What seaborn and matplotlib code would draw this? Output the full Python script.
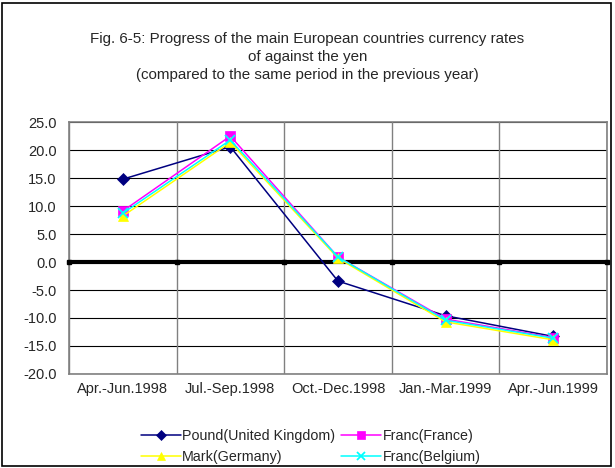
import pandas as pd
import matplotlib.pyplot as plt
import seaborn as sns
from matplotlib.patches import Rectangle

# Values (% change vs same period of previous year)
periods = ['Apr.-Jun.1998', 'Jul.-Sep.1998', 'Oct.-Dec.1998', 'Jan.-Mar.1999', 'Apr.-Jun.1999']
pound = [14.8, 20.6, -3.4, -9.6, -13.3]
franc_fr = [9.1, 22.5, 0.9, -10.2, -13.5]
mark = [8.2, 21.4, 0.7, -10.7, -13.9]
franc_be = [8.7, 21.8, 0.9, -10.4, -13.6]

series_names = ['Pound(United Kingdom)', 'Franc(France)', 'Mark(Germany)', 'Franc(Belgium)']
series_values = [pound, franc_fr, mark, franc_be]
colors = ['#000080', '#FF00FF', '#FFFF00', '#00FFFF']
marker_styles = ['D', 's', '^', 'x']
y_ticks = [25.0, 20.0, 15.0, 10.0, 5.0, 0.0, -5.0, -10.0, -15.0, -20.0]

sns.set_style('white')
plt.rcParams['font.family'] = ['Liberation Sans', 'DejaVu Sans']

fig = plt.figure(figsize=(6.15, 4.68), dpi=100)
ax = fig.add_axes([0.112, 0.201, 0.875, 0.538])

# grid first so lines sit on top
for yt in y_ticks:
    ax.axhline(yt, color='black', linewidth=0.8, zorder=1)
for b in range(len(periods) + 1):
    ax.axvline(b - 0.5, color='#808080', linewidth=1.0, zorder=1)
ax.axhline(0, color='black', linewidth=3, zorder=2)

for name, vals, c, m in zip(series_names, series_values, colors, marker_styles):
    d = pd.DataFrame({'Period': periods, 'Rate': vals})
    sns.lineplot(data=d, x='Period', y='Rate', color=c, marker=m, label=name,
                 linewidth=1.1, markersize=6.5, markeredgewidth=1.3 if m == 'x' else 0.5,
                 markeredgecolor=c, ax=ax, zorder=3, sort=False)

# tick dots on the zero line at category boundaries
ax.plot([b - 0.5 for b in range(len(periods) + 1)], [0] * (len(periods) + 1),
        linestyle='none', marker='s', markersize=3, color='black', zorder=4,
        clip_on=False)

ax.set_xlim(-0.5, len(periods) - 0.5)
ax.set_ylim(-20, 25)
ax.set_yticks(y_ticks)
ax.set_yticklabels([f'{t:.1f}' for t in y_ticks], fontsize=10.5)
ax.set_xticks(range(len(periods)))
ax.set_xticklabels(periods, fontsize=10.5)
ax.tick_params(axis='y', length=0, pad=9)
ax.tick_params(axis='x', length=0, pad=6)
ax.set_xlabel('')
ax.set_ylabel('')
for s in ax.spines.values():
    s.set_color('#808080')
    s.set_linewidth(1.2)

# legend fills row by row: Pound, Franc(France) / Mark, Franc(Belgium)
handles, labels = ax.get_legend_handles_labels()
ax.legend_.remove()
order = [0, 2, 1, 3]
fig.legend([handles[i] for i in order], [labels[i] for i in order],
           loc='center', bbox_to_anchor=(0.505, 0.046), ncol=2,
           frameon=False, fontsize=10.3, handlelength=2.8, handletextpad=0.1,
           columnspacing=0.4, labelspacing=0.45, markerscale=0.85)

fig.text(0.5, 0.878, 'Fig. 6-5: Progress of the main European countries currency rates\n'
         'of against the yen\n(compared to the same period in the previous year)',
         ha='center', va='center', fontsize=10.9, linespacing=1.4)

fig.patches.append(Rectangle((0.004, 0.004), 0.99, 0.99, transform=fig.transFigure,
                             fill=False, edgecolor='black', linewidth=1.2))

fig.savefig('out.png', dpi=100)
